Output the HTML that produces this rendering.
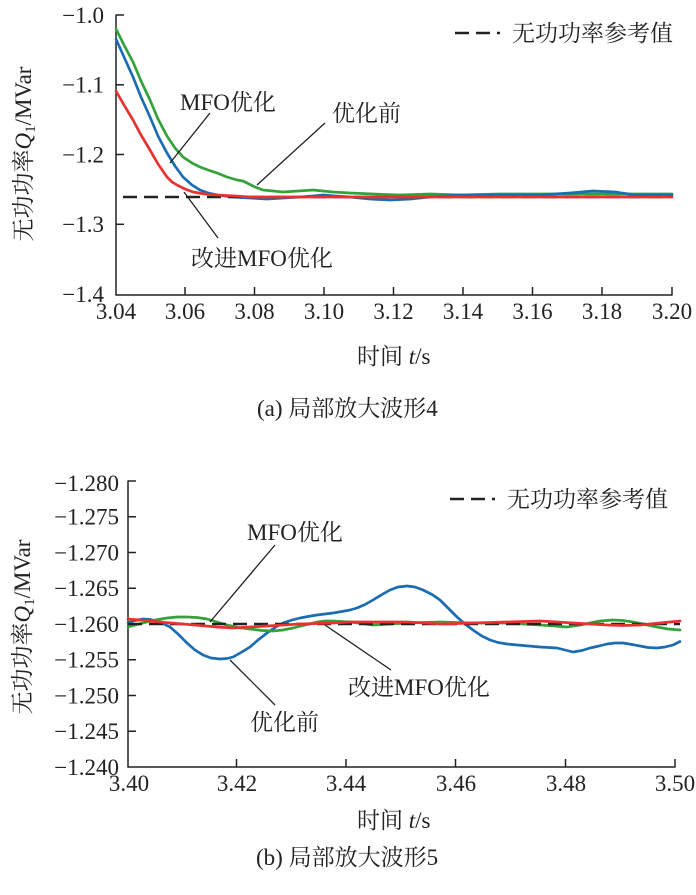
<!DOCTYPE html>
<html>
<head>
<meta charset="utf-8">
<style>
html,body{margin:0;padding:0;background:#fff;}
svg{display:block;}
text{font-family:"Liberation Serif","Noto Serif CJK SC","Noto Sans CJK SC",serif;fill:#222;}
</style>
</head>
<body>
<svg width="696" height="895" viewBox="0 0 696 895" xmlns="http://www.w3.org/2000/svg">
<!-- ============ TOP CHART ============ -->
<g fill="none" stroke="#222" stroke-width="1.5">
  <line x1="116" y1="14.5" x2="116" y2="295"/>
  <line x1="115.3" y1="295" x2="672.5" y2="295"/>
  <line x1="116" y1="15" x2="124" y2="15"/>
  <line x1="116" y1="84.8" x2="124" y2="84.8"/>
  <line x1="116" y1="154.5" x2="124" y2="154.5"/>
  <line x1="116" y1="224.3" x2="124" y2="224.3"/>
  <line x1="185" y1="295" x2="185" y2="287"/>
  <line x1="254.5" y1="295" x2="254.5" y2="287"/>
  <line x1="324" y1="295" x2="324" y2="287"/>
  <line x1="393.5" y1="295" x2="393.5" y2="287"/>
  <line x1="463" y1="295" x2="463" y2="287"/>
  <line x1="532.5" y1="295" x2="532.5" y2="287"/>
  <line x1="602" y1="295" x2="602" y2="287"/>
  <line x1="672" y1="295" x2="672" y2="287"/>
</g>
<g font-size="23" text-anchor="end">
  <text x="104" y="22.8">−1.0</text>
  <text x="104" y="92.6">−1.1</text>
  <text x="104" y="162.3">−1.2</text>
  <text x="104" y="232.1">−1.3</text>
  <text x="104" y="301.8">−1.4</text>
</g>
<g font-size="23" text-anchor="middle">
  <text x="116" y="319">3.04</text>
  <text x="185" y="319">3.06</text>
  <text x="254.5" y="319">3.08</text>
  <text x="324" y="319">3.10</text>
  <text x="393.5" y="319">3.12</text>
  <text x="463" y="319">3.14</text>
  <text x="532.5" y="319">3.16</text>
  <text x="602" y="319">3.18</text>
  <text x="672" y="319">3.20</text>
</g>
<text font-size="23" text-anchor="middle" transform="translate(31,154) rotate(-90)">无功功率<tspan font-style="italic">Q</tspan><tspan font-size="15" dy="4">1</tspan><tspan dy="-4">/MVar</tspan></text>
<text font-size="23" x="357" y="364">时间 <tspan font-style="italic">t</tspan>/s</text>
<text font-size="23" x="257" y="416">(a) 局部放大波形4</text>

<line x1="455" y1="33" x2="500" y2="33" stroke="#222" stroke-width="2.5" stroke-dasharray="14,7"/>
<text font-size="23" x="512" y="41">无功功率参考值</text>

<g fill="none" stroke-width="2.7" stroke-linejoin="round" stroke-linecap="round">
  <polyline stroke="#34a23a" points="116,29 124,45 133,62 141,81 150,100 158,119 167,136 175,148 183,157 192,163 200,167 208,170 217,173 227,177 237,180 243,181 247,183 255,187 263,190 273,191 283,192 298,191 313,190 323,191 333,192 350,193 373,194 400,195 430,194 460,195 500,194 540,194 580,194 620,194 650,194 672,194"/>
  <polyline stroke="#1b6db3" points="116,39 124,57 133,77 141,97 150,117 158,136 167,153 175,166 183,177 192,185 200,190 208,193 217,195 233,197 250,198 267,199 283,198 300,197 313,196 323,195 335,196 350,197 370,199 390,200 410,199 430,197 460,195 500,195 540,195 570,193 593,191 615,192 635,195 655,195 672,195"/>
  <line x1="123" y1="197" x2="672" y2="197" stroke="#222" stroke-width="2.5" stroke-dasharray="14,7" stroke-linecap="butt"/>
  <polyline stroke="#e8322f" points="116,91 124,105 133,120 141,135 150,150 158,164 167,177 172,182 177,185 185,189 193,192 205,194 217,195 235,196 250,197 300,197 350,197 400,197 500,197 600,197 672,197"/>
</g>
<g stroke="#222" stroke-width="1.3">
  <line x1="210" y1="113" x2="170" y2="163"/>
  <line x1="325" y1="123" x2="257" y2="185"/>
  <line x1="184" y1="192" x2="218" y2="238"/>
</g>
<g font-size="23">
  <text x="180" y="110">MFO优化</text>
  <text x="332" y="121">优化前</text>
  <text x="191" y="266">改进MFO优化</text>
</g>

<!-- ============ BOTTOM CHART ============ -->
<g fill="none" stroke="#222" stroke-width="1.5">
  <line x1="128" y1="480.5" x2="128" y2="767"/>
  <line x1="127.3" y1="767" x2="675.5" y2="767"/>
  <line x1="128" y1="481" x2="136" y2="481"/>
  <line x1="128" y1="516.75" x2="136" y2="516.75"/>
  <line x1="128" y1="552.5" x2="136" y2="552.5"/>
  <line x1="128" y1="588.25" x2="136" y2="588.25"/>
  <line x1="128" y1="624" x2="136" y2="624"/>
  <line x1="128" y1="659.75" x2="136" y2="659.75"/>
  <line x1="128" y1="695.5" x2="136" y2="695.5"/>
  <line x1="128" y1="731.25" x2="136" y2="731.25"/>
  <line x1="236.5" y1="767" x2="236.5" y2="759"/>
  <line x1="346" y1="767" x2="346" y2="759"/>
  <line x1="455.5" y1="767" x2="455.5" y2="759"/>
  <line x1="565.5" y1="767" x2="565.5" y2="759"/>
  <line x1="675" y1="767" x2="675" y2="759"/>
</g>
<g font-size="23" text-anchor="end">
  <text x="119" y="490.8">−1.280</text>
  <text x="119" y="524.55">−1.275</text>
  <text x="119" y="560.3">−1.270</text>
  <text x="119" y="596.05">−1.265</text>
  <text x="119" y="631.8">−1.260</text>
  <text x="119" y="667.55">−1.255</text>
  <text x="119" y="703.3">−1.250</text>
  <text x="119" y="739.05">−1.245</text>
  <text x="119" y="774.8">−1.240</text>
</g>
<g font-size="23" text-anchor="middle">
  <text x="129" y="791">3.40</text>
  <text x="237" y="791">3.42</text>
  <text x="346" y="791">3.44</text>
  <text x="456" y="791">3.46</text>
  <text x="566" y="791">3.48</text>
  <text x="675" y="791">3.50</text>
</g>
<text font-size="23" text-anchor="middle" transform="translate(30,627) rotate(-90)">无功功率<tspan font-style="italic">Q</tspan><tspan font-size="15" dy="4">1</tspan><tspan dy="-4">/MVar</tspan></text>
<text font-size="23" x="357" y="828">时间 <tspan font-style="italic">t</tspan>/s</text>
<text font-size="23" x="256" y="865">(b) 局部放大波形5</text>

<line x1="450" y1="499" x2="495" y2="499" stroke="#222" stroke-width="2.5" stroke-dasharray="14,7"/>
<text font-size="23" x="507" y="507">无功功率参考值</text>

<g fill="none" stroke-width="2.7" stroke-linejoin="round" stroke-linecap="round">
  <polyline stroke="#1b6db3" points="128,622.7 135,620.5 143,619 150,619.5 157,621 163,623.5 170,627 178,634 187,643 195,650 203,655 211,658 220,659 227,658.5 233,657 241,652.5 250,647 258,640 267,633 275,627.5 283,623 292,620 300,618 308,616.5 317,615 325,614 333,613 342,611.5 350,610 357,608 365,604.5 373,600 382,594.5 390,590 398,587 407,586 415,587 423,590 432,594.5 440,600 448,608 457,617 465,624 473,630 481,635.5 490,640 498,642.5 507,644 523,645.5 540,647 557,648 565,650 573,652 582,650.5 590,648 599,646 607,644 615,643 623,643 632,644.5 640,646 648,647.5 657,648 665,647 673,645 680,641.5"/>
  <polyline stroke="#34a23a" points="128,627 135,625 143,623 155,620 167,618 177,617 187,617 197,617.5 207,619 217,622 227,625 238,627.5 250,629 262,630.5 273,631 283,630 293,628 305,625 317,622 325,621 333,621 350,622 373,625 390,624 407,623 440,622 473,623 507,623 540,625 555,626 567,627 580,625 590,623 600,621 613,620 623,620.5 633,622 645,624.5 657,627 668,629 680,630"/>
  <line x1="128" y1="624" x2="680" y2="624" stroke="#222" stroke-width="2.5" stroke-dasharray="14,7" stroke-linecap="butt"/>
  <polyline stroke="#e8322f" points="128,619 140,620 150,621 165,622.5 183,624 200,625.5 217,627 233,628 250,627 267,626 283,625 300,624 317,623.5 333,623 350,622 373,622 407,622 425,623 440,624 457,623.5 473,623 490,622.5 507,622 525,621.5 540,621 557,622 573,623 590,624 607,625 623,625.5 640,625 660,623 680,621"/>
</g>
<g stroke="#222" stroke-width="1.3">
  <line x1="275" y1="545" x2="210" y2="622"/>
  <line x1="230" y1="660" x2="275" y2="705"/>
  <line x1="325" y1="625" x2="391" y2="670"/>
</g>
<g font-size="23">
  <text x="247" y="540">MFO优化</text>
  <text x="250" y="730">优化前</text>
  <text x="348" y="695">改进MFO优化</text>
</g>
</svg>
</body>
</html>
